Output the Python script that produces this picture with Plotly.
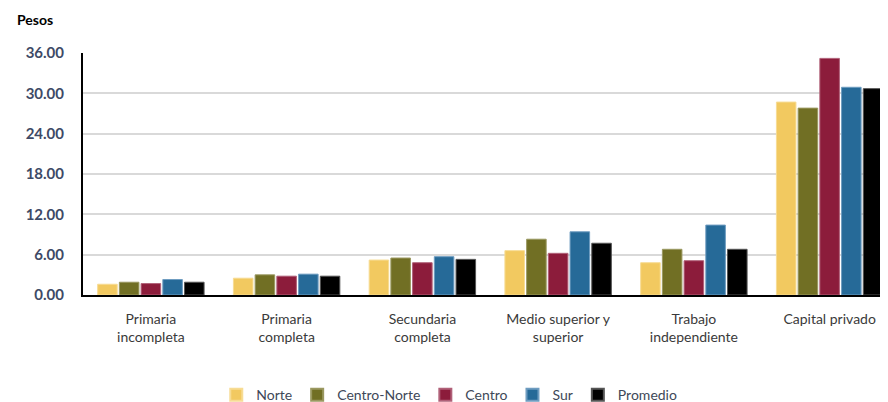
import plotly.graph_objects as go

categories = ["Primaria<br>incompleta", "Primaria<br>completa", "Secundaria<br>completa",
              "Medio superior y<br>superior", "Trabajo<br>independiente", "Capital privado"]
series_names = ["Norte", "Centro-Norte", "Centro", "Sur", "Promedio"]
norte = [1.6, 2.5, 5.2, 6.6, 4.8, 28.7]
centro_norte = [1.9, 3.0, 5.5, 8.3, 6.8, 27.8]
centro = [1.7, 2.8, 4.8, 6.2, 5.1, 35.2]
sur = [2.3, 3.1, 5.7, 9.4, 10.4, 30.9]
promedio = [1.9, 2.8, 5.3, 7.7, 6.8, 30.7]
y_ticks = [0, 6, 12, 18, 24, 30, 36]
y_tick_labels = ["0.00", "6.00", "12.00", "18.00", "24.00", "30.00", "36.00"]

values = [norte, centro_norte, centro, sur, promedio]
colors = ["#F2C960", "#716F24", "#8C1C3B", "#266A98", "#000000"]
edge = ["#F7DC94", "#9A9860", "#B06078", "#6E9CC0", "#555555"]

font = "Lato, 'Open Sans', sans-serif"
fig = go.Figure()
for name, vals, c, e in zip(series_names, values, colors, edge):
    fig.add_trace(go.Bar(name=name, x=categories, y=vals,
                         marker=dict(color=c, line=dict(color=e, width=1))))

# page body has an 8px default margin, so the figure is offset to fit the window
fig.update_layout(
    width=880, height=404,
    margin=dict(l=75, r=0, t=45, b=117),
    paper_bgcolor="white", plot_bgcolor="white",
    barmode="group", bargap=0.2, bargroupgap=0.1,
    font=dict(family=font, size=14, color="#404040"),
    showlegend=True,
    legend=dict(orientation="h", x=0.455, xanchor="center", y=-0.48, yanchor="bottom",
                font=dict(size=14, color="#404858"), itemwidth=30,
                traceorder="normal", itemsizing="constant"),
    xaxis=dict(range=[-0.5, 5.43], showline=True, linecolor="#000000", linewidth=2,
               ticks="", tickfont=dict(size=14, color="#3A3A3A"), ticklabelstandoff=10,
               showgrid=False, automargin=False),
    yaxis=dict(range=[0, 36], tickvals=y_ticks, ticktext=y_tick_labels,
               showline=True, linecolor="#000000", linewidth=2,
               gridcolor="#D9D9D9", gridwidth=1.5, zeroline=False,
               tickfont=dict(size=15, color="#3E4A66", family="Lato, sans-serif", weight="bold"),
               ticklabelstandoff=14, automargin=False),
    annotations=[dict(text="<b>Pesos</b>", xref="paper", yref="paper", x=-0.085, y=1.14,
                      xanchor="left", yanchor="middle", showarrow=False,
                      font=dict(size=14, color="#000000", family=font))],
)
fig.write_html("out.html")
